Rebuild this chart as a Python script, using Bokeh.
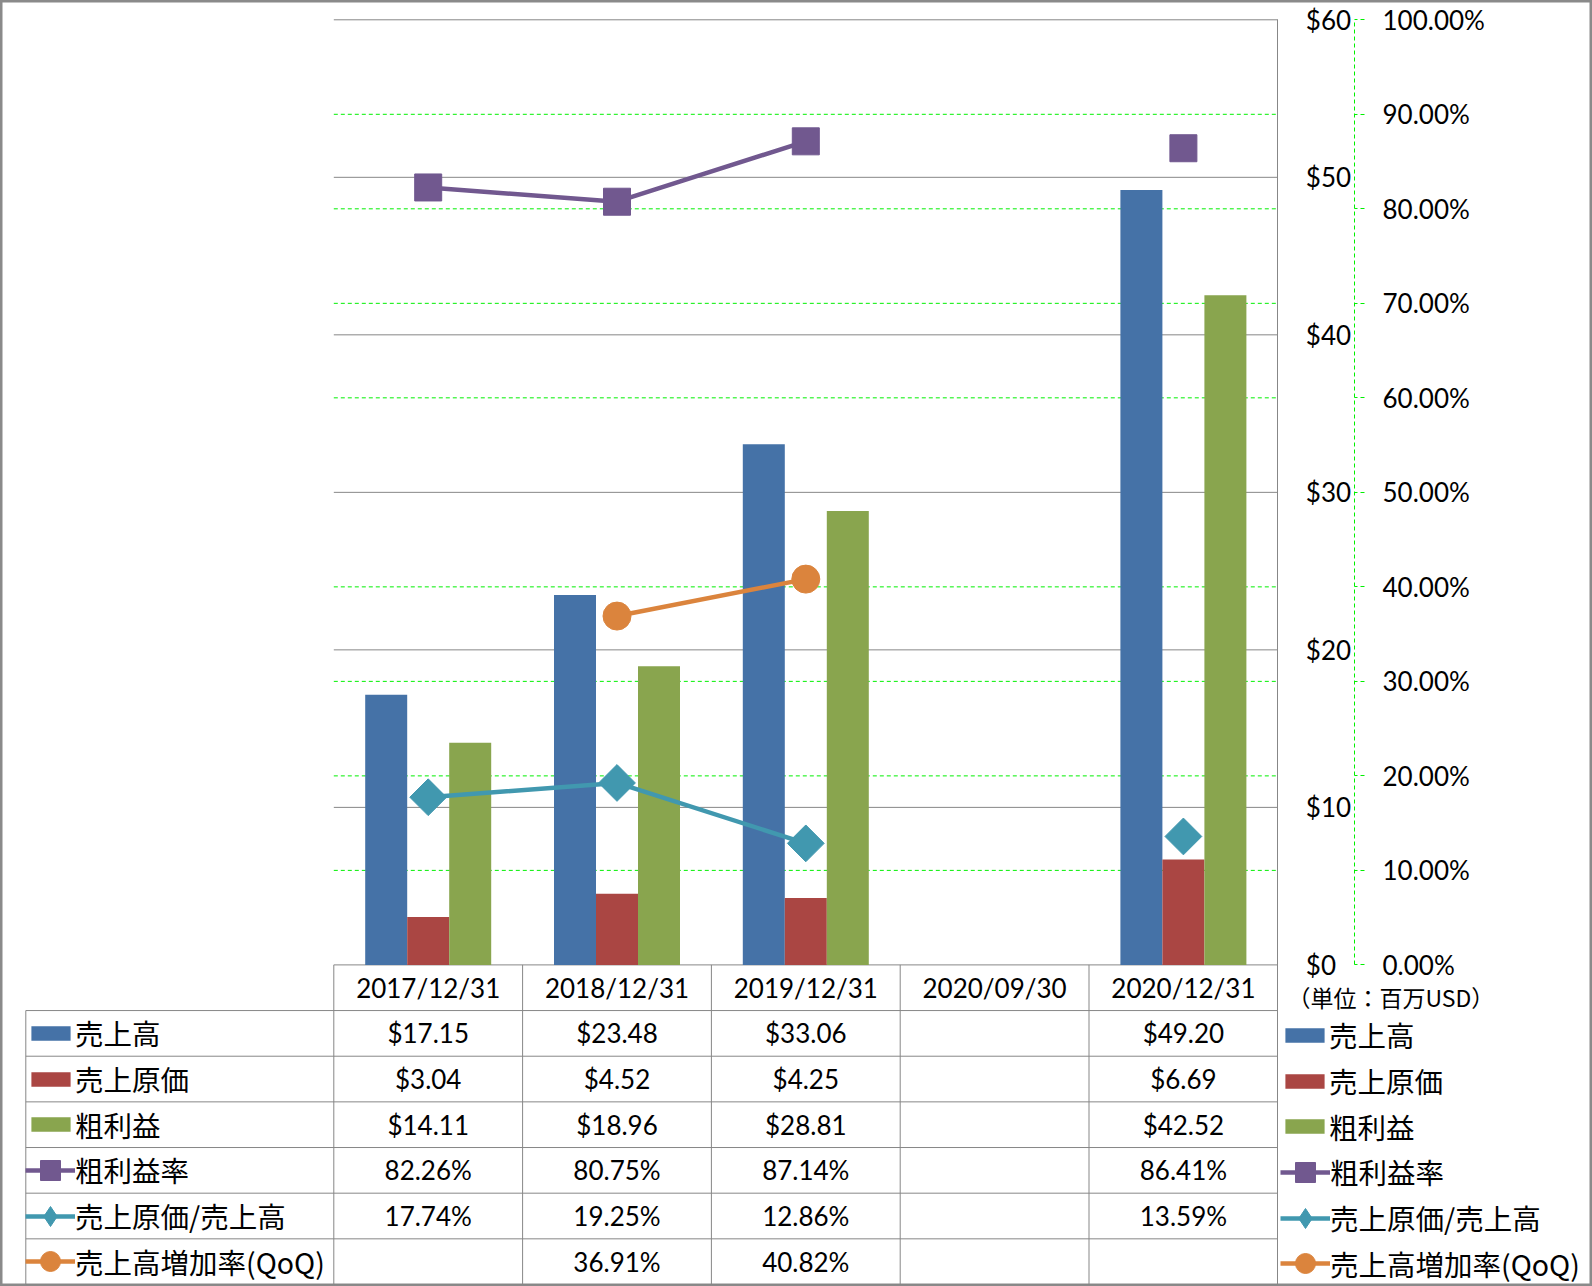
import math
from bokeh.plotting import figure
from bokeh.models import (Range1d, LinearAxis, FixedTicker, NumeralTickFormatter,
                          Legend, LegendItem, Label, ColumnDataSource)
from bokeh.transform import dodge
from bokeh.core.properties import value
from bokeh.embed import file_html
from bokeh.resources import INLINE

NaN = float("nan")

# ---------------- data ----------------
categories = ["2017/12/31", "2018/12/31", "2019/12/31", "2020/09/30", "2020/12/31"]
sales = [17.15, 23.48, 33.06, NaN, 49.20]            # 売上高 (百万USD)
cogs = [3.04, 4.52, 4.25, NaN, 6.69]                 # 売上原価
gross = [14.11, 18.96, 28.81, NaN, 42.52]            # 粗利益
gross_margin = [82.26, 80.75, 87.14, NaN, 86.41]     # 粗利益率 (%)
cogs_ratio = [17.74, 19.25, 12.86, NaN, 13.59]       # 売上原価/売上高 (%)
sales_growth = [NaN, 36.91, 40.82, NaN, NaN]         # 売上高増加率(QoQ) (%)
series_names = ["売上高", "売上原価", "粗利益", "粗利益率", "売上原価/売上高", "売上高増加率(QoQ)"]
usd_ticks = [0, 10, 20, 30, 40, 50, 60]
pct_ticks = [0.0, 0.1, 0.2, 0.3, 0.4, 0.5, 0.6, 0.7, 0.8, 0.9, 1.0]
unit_note = "（単位：百万USD）"

# ---------------- styles / geometry ----------------
C_BLUE, C_RED, C_GREEN = "#4572A7", "#AA4643", "#89A54E"
C_PURPLE, C_TEAL, C_ORANGE = "#71588F", "#4198AF", "#DB843D"
C_LINE = "#878787"
C_GGRID = "#00f000"
NUM_FONT = "Lato"
JP_FONT = "Noto Sans CJK JP"
NUM_SIZE = "26px"
JP_SIZE = "28.5px"

W, H = 1592, 1286
PX_X0, CAT_W = 333.3, 188.8          # pixel of first category edge, category width
PX_Y0, PX_Y60 = 964.4, 19.3          # pixels of $0 and $60
PX_PER_USD = (PX_Y0 - PX_Y60) / 60


def xd(px):
    return (px - PX_X0) / CAT_W


def yd(py):
    return (PX_Y0 - py) / PX_PER_USD


n = len(categories)
xs = [i + 0.5 for i in range(n)]
BW = 42 / CAT_W
Y_BOT = yd(1284)                     # bottom of data table
N_ROWS = len(series_names) + 1
ROW_H = -Y_BOT / N_ROWS
X_LEFT = xd(25.3)                    # left edge of data table

p = figure(width=W, height=H,
           x_range=Range1d(xd(0), xd(W)), y_range=Range1d(yd(H), yd(0)),
           x_axis_location=None, y_axis_location=None,
           output_backend="svg", toolbar_location=None,
           min_border_left=0, min_border_right=0, min_border_top=0, min_border_bottom=0)
p.extra_y_ranges = {"pct": Range1d(yd(H) / 60, yd(0) / 60)}
p.outline_line_color = "#8a8a8a"
p.outline_line_width = 4
p.background_fill_color = "white"
p.border_fill_color = "white"
p.xgrid.visible = False
p.ygrid.visible = False

# ---------------- grid lines (from the tick lists) ----------------
g_pct = [t for t in pct_ticks if min(abs((t * 60) % 10), 10 - abs((t * 60) % 10)) > 1e-6]
p.segment(x0=[0] * len(g_pct), x1=[n] * len(g_pct), y0=g_pct, y1=g_pct, y_range_name="pct",
          line_color=C_GGRID, line_width=1, line_dash="4 3")
p.segment(x0=[0] * len(usd_ticks), x1=[n] * len(usd_ticks), y0=usd_ticks, y1=usd_ticks,
          line_color=C_LINE, line_width=1)

# ---------------- axes (both on the right of the plot area) ----------------
ax_usd = LinearAxis(ticker=FixedTicker(ticks=usd_ticks), formatter=NumeralTickFormatter(format="$0"),
                    fixed_location=n, bounds=(Y_BOT, 60),
                    axis_line_color=C_LINE, axis_line_width=1,
                    major_tick_in=0, major_tick_out=0, minor_tick_in=0, minor_tick_out=0,
                    major_label_standoff=28, major_label_text_font=NUM_FONT,
                    major_label_text_font_size=NUM_SIZE, major_label_text_color="black")
p.add_layout(ax_usd, "right")
ax_pct = LinearAxis(y_range_name="pct", ticker=FixedTicker(ticks=pct_ticks),
                    formatter=NumeralTickFormatter(format="0.00%"), bounds=(0, 1),
                    fixed_location=xd(1354),
                    axis_line_color=C_GGRID, axis_line_width=1, axis_line_dash="4 3",
                    major_tick_line_color=C_GGRID, major_tick_line_dash="4 3",
                    major_tick_in=0, major_tick_out=10, minor_tick_in=0, minor_tick_out=0,
                    major_label_standoff=18, major_label_text_font=NUM_FONT,
                    major_label_text_font_size=NUM_SIZE, major_label_text_color="black")
p.add_layout(ax_pct, "right")

# ---------------- marks ----------------
src = ColumnDataSource(dict(
    x=xs, sales=sales, cogs=cogs, gross=gross,
    gm=[v / 100 for v in gross_margin],
    cr=[v / 100 for v in cogs_ratio],
    sg=[v / 100 for v in sales_growth],
))

r_sales = p.vbar(x=dodge("x", -BW, range=p.x_range), top="sales", bottom=0, width=BW, source=src,
                 fill_color=C_BLUE, line_color=None)
r_cogs = p.vbar(x="x", top="cogs", bottom=0, width=BW, source=src, fill_color=C_RED, line_color=None)
r_gross = p.vbar(x=dodge("x", BW, range=p.x_range), top="gross", bottom=0, width=BW, source=src,
                 fill_color=C_GREEN, line_color=None)

l_gm = p.line(x="x", y="gm", source=src, y_range_name="pct", line_color=C_PURPLE, line_width=4.5)
m_gm = p.scatter(x="x", y="gm", source=src, y_range_name="pct", marker="square", size=27,
                 fill_color=C_PURPLE, line_color=C_PURPLE)
l_cr = p.line(x="x", y="cr", source=src, y_range_name="pct", line_color=C_TEAL, line_width=4.5)
m_cr = p.scatter(x="x", y="cr", source=src, y_range_name="pct", marker="square", angle=math.pi / 4,
                 size=26, fill_color=C_TEAL, line_color=C_TEAL)
l_sg = p.line(x="x", y="sg", source=src, y_range_name="pct", line_color=C_ORANGE, line_width=4.5)
m_sg = p.scatter(x="x", y="sg", source=src, y_range_name="pct", marker="circle", size=28,
                 fill_color=C_ORANGE, line_color=C_ORANGE)
# legend-only key glyph (diamond) for 売上原価/売上高: it has no points of its own
key_src = ColumnDataSource(dict(x=[NaN], y=[NaN]))
k_cr = p.scatter(x="x", y="y", source=key_src, y_range_name="pct", marker="diamond",
                 fill_color=C_TEAL, line_color=C_TEAL)

# ---------------- data table ----------------
def fmt_usd(v):
    return "" if math.isnan(v) else f"${v:.2f}"


def fmt_pct(v):
    return "" if math.isnan(v) else f"{v:.2f}%"


table_rows = [
    [fmt_usd(v) for v in sales],
    [fmt_usd(v) for v in cogs],
    [fmt_usd(v) for v in gross],
    [fmt_pct(v) for v in gross_margin],
    [fmt_pct(v) for v in cogs_ratio],
    [fmt_pct(v) for v in sales_growth],
]
tx, ty, tt = [], [], []
for j, row in enumerate(table_rows):
    for i, s in enumerate(row):
        if s:
            tx.append(xs[i]); ty.append(-(j + 1.5) * ROW_H); tt.append(s)
p.text(x=tx, y=ty, text=tt, text_align="center", text_baseline="middle",
       text_font=value(NUM_FONT), text_font_size=NUM_SIZE, text_color="black")
p.text(x=xs, y=[-0.5 * ROW_H] * n, text=categories, text_align="center", text_baseline="middle",
       text_font=value(NUM_FONT), text_font_size=NUM_SIZE, text_color="black")

# table rules
hy = [-k * ROW_H for k in range(1, N_ROWS + 1)]
p.segment(x0=[X_LEFT] * len(hy), x1=[n] * len(hy), y0=hy, y1=hy, line_color=C_LINE, line_width=1)
p.segment(x0=list(range(n)), x1=list(range(n)), y0=[0] * n, y1=[Y_BOT] * n, line_color=C_LINE, line_width=1)
p.segment(x0=[X_LEFT], x1=[X_LEFT], y0=[-ROW_H], y1=[Y_BOT], line_color=C_LINE, line_width=1)

# ---------------- legends: table keys (left) and chart legend (right) ----------------
series_renderers = [[r_sales], [r_cogs], [r_gross], [l_gm, m_gm], [l_cr, k_cr], [l_sg, m_sg]]
T_TEXT = 29.5
for j, (name, rends) in enumerate(zip(series_names, series_renderers)):
    is_bar = j < 3
    c_px = PX_Y0 + (j + 1.5) * ROW_H * PX_PER_USD       # row centre in pixels
    for side in ("left", "right"):
        cy = c_px if side == "left" else c_px + 2
        if is_bar:
            gw, gh = 49, 18
            bottom_px = cy - gh / 2 + T_TEXT
            vx = 26 if side == "left" else 1280
        else:
            gw, gh = 50, 50
            bottom_px = cy + gh / 2
            vx = 25 if side == "left" else 1280
        leg = Legend(items=[LegendItem(label=name, renderers=rends)],
                     location=(vx, H - bottom_px),
                     glyph_width=gw, glyph_height=gh, label_height=gh if not is_bar else 18,
                     padding=0, margin=0, spacing=0, label_standoff=0,
                     border_line_alpha=0, background_fill_alpha=0,
                     label_text_font=JP_FONT, label_text_font_size=JP_SIZE,
                     label_text_color="black")
        p.add_layout(leg)

p.add_layout(Label(x=xd(1287), y=yd(996), text=unit_note,
                   text_font=JP_FONT, text_font_size="23px", text_baseline="middle",
                   text_align="left", text_color="black"))

open("out.html", "w").write(file_html(p, INLINE))
